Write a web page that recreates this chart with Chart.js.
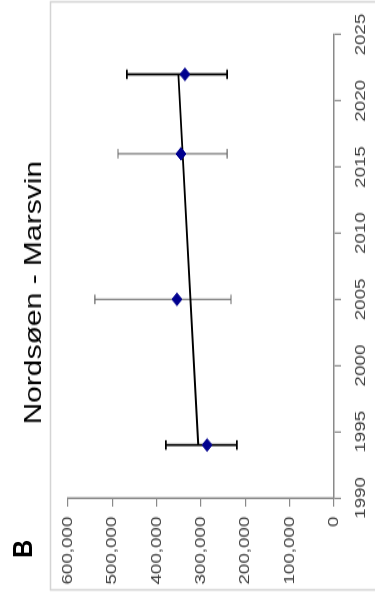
<!DOCTYPE html>
<html>
<head>
<meta charset="utf-8">
<script src="https://cdn.jsdelivr.net/npm/chart.js@4.4.1/dist/chart.umd.min.js"></script>
<style>
  html, body { margin: 0; padding: 0; background: #fff; }
  body { width: 375px; height: 598px; overflow: hidden; position: relative; }
  #rot {
    position: absolute; left: 0; top: 0;
    width: 478px; height: 375px;
    transform-origin: 0 0;
    transform: translate(0px, 598px) rotate(-90deg) scale(1.251, 1);
    background: #fff;
  }
  #rot canvas { position: absolute; left: 0; top: 0; }
  #panel {
    position: absolute; left: 32px; top: 9px;
    font: bold 28px "Liberation Sans", Arial, sans-serif;
    line-height: 28px; color: #000;
    transform-origin: 0 0; transform: scaleX(0.72);
  }
</style>
</head>
<body>
<div id="rot">
  <canvas id="c" width="478" height="375"></canvas>
  <div id="panel">B</div>
</div>
<script>
// ---- data ----
const chartTitle = "Nordsøen - Marsvin";
const years      = [1994, 2005, 2016, 2022];
const values     = [286000, 354000, 345000, 336000];
const lowerBound = [219000, 232000, 241000, 241000];
const upperBound = [379000, 539000, 487000, 467000];
const trendYears  = [1994, 2022];
const trendValues = [306000, 351000];
const yearTicks  = [1990, 1995, 2000, 2005, 2010, 2015, 2020, 2025];
const valueTicks = [0, 100000, 200000, 300000, 400000, 500000, 600000];

// styles per error bar (darker for first and last survey)
const barColors = ['#000000', '#6a6a6a', '#6a6a6a', '#000000'];
const barWidths = [1.8, 1.1, 1.1, 1.8];

const FONT = '"Liberation Sans", Arial, sans-serif';

const errorSets = years.map((yr, i) => ({
  type: 'line',
  label: 'err' + i,
  data: [{x: yr, y: lowerBound[i]}, {x: yr, y: upperBound[i]}],
  borderColor: barColors[i],
  borderWidth: barWidths[i],
  pointStyle: 'line',
  pointRadius: 3.8,
  pointBorderColor: barColors[i],
  pointBorderWidth: barWidths[i],
  pointHoverRadius: 3.8,
  showLine: true,
  fill: false,
  order: 3
}));

const trendSet = {
  type: 'line',
  label: 'trend',
  data: trendYears.map((yr, i) => ({x: yr, y: trendValues[i]})),
  borderColor: '#000000',
  borderWidth: 1.8,
  pointRadius: 0,
  showLine: true,
  fill: false,
  order: 2
};

const pointSet = {
  type: 'scatter',
  label: 'estimate',
  data: years.map((yr, i) => ({x: yr, y: values[i]})),
  pointStyle: 'rectRot',
  pointRadius: 5,
  backgroundColor: '#00008f',
  borderColor: '#00008f',
  borderWidth: 1,
  order: 1
};

const framePlugin = {
  id: 'frame',
  afterLayout(chart) {
    // title block centred a little to the right of the full canvas, as in the original
    if (chart.titleBlock) { chart.titleBlock.left += 36; }
  },
  beforeDraw(chart) {
    const ctx = chart.ctx;
    ctx.save();
    ctx.fillStyle = '#ffffff';
    ctx.fillRect(0, 0, chart.width, chart.height);
    ctx.strokeStyle = '#d4d4d4';
    ctx.lineWidth = 1.5;
    ctx.strokeRect(6.5, 50.5, 470, 340);
    ctx.restore();
  }
};

new Chart(document.getElementById('c'), {
  data: { datasets: [...errorSets, trendSet, pointSet] },
  options: {
    responsive: false,
    animation: false,
    events: [],
    layout: { padding: { left: 0, right: 26, top: 0, bottom: 0 } },
    plugins: {
      legend: { display: false },
      tooltip: { enabled: false },
      title: {
        display: true,
        text: chartTitle,
        color: '#000',
        font: { family: FONT, size: 24, weight: 'normal' },
        padding: { top: 20, bottom: 19 }
      }
    },
    scales: {
      x: {
        type: 'linear',
        min: yearTicks[0],
        max: yearTicks[yearTicks.length - 1],
        afterBuildTicks: s => { s.ticks = yearTicks.map(v => ({value: v})); },
        afterFit: s => { s.height = 41; },
        ticks: {
          color: '#404040',
          font: { family: FONT, size: 15 },
          padding: 11,
          maxRotation: 0,
          callback: v => String(v)
        },
        grid: { drawOnChartArea: false, tickLength: 7, color: '#8a8a8a', lineWidth: 1.2 },
        border: { color: '#8a8a8a', width: 1.5 }
      },
      y: {
        type: 'linear',
        min: valueTicks[0],
        max: valueTicks[valueTicks.length - 1],
        afterBuildTicks: s => { s.ticks = valueTicks.map(v => ({value: v})); },
        afterFit: s => { s.width = 80; },
        ticks: {
          color: '#404040',
          font: { family: FONT, size: 15 },
          padding: 8,
          callback: v => Number(v).toLocaleString('en-US')
        },
        grid: { drawOnChartArea: false, tickLength: 7, color: '#8a8a8a', lineWidth: 1.2 },
        border: { color: '#8a8a8a', width: 1.5 }
      }
    }
  },
  plugins: [framePlugin]
});
</script>
</body>
</html>
